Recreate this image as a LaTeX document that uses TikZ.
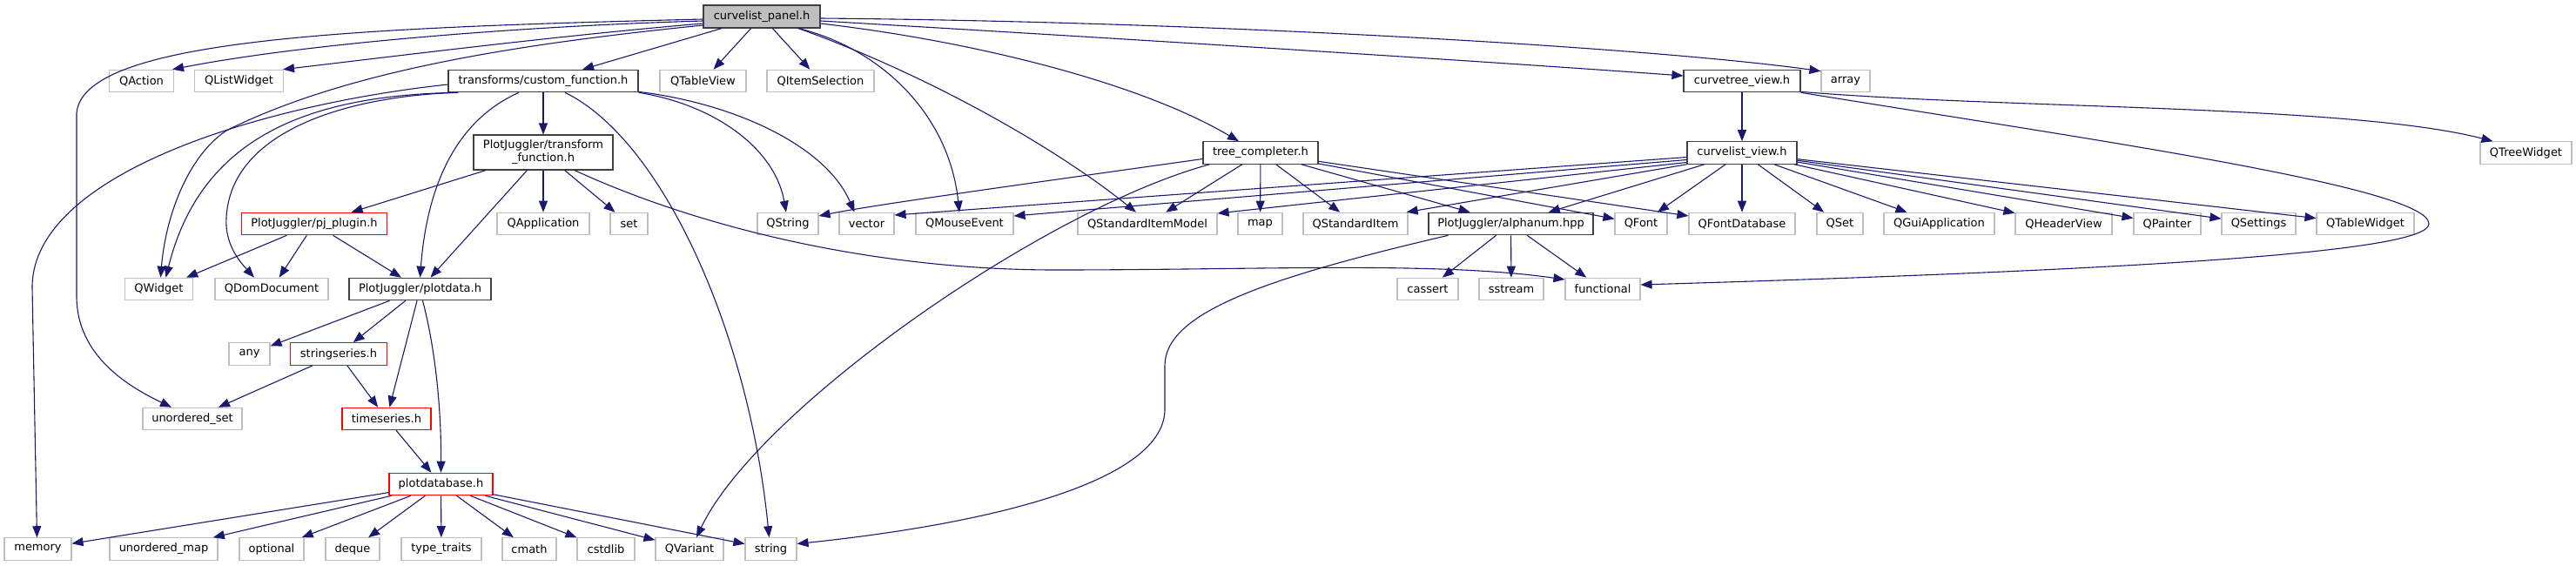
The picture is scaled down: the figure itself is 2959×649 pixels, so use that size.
\documentclass[tikz,border=0pt]{standalone}
\usepackage{fontspec}
\setmainfont{DejaVu Sans}
\usetikzlibrary{arrows.meta,calc}
\definecolor{edgeblue}{HTML}{191970}
\definecolor{extgray}{HTML}{BFBFBF}
\definecolor{docgray}{HTML}{404040}
\definecolor{maingray}{HTML}{BFBFBF}
\begin{document}
\begin{tikzpicture}[x=1pt,y=-1pt,
  every node/.style={font=\fontsize{13}{15}\selectfont, inner sep=0pt, minimum height=25.5pt, anchor=center, text=black},
  ext/.style={draw=extgray, fill=white, line width=1.1pt},
  doc/.style={draw=docgray, fill=white, line width=1.1pt},
  trunc/.style={draw=red, fill=white, line width=1.1pt},
  mainbox/.style={draw=docgray, fill=maingray, line width=1.1pt},
  dep/.style={draw=edgeblue, line width=1.1pt, -{Triangle[length=13pt,width=10pt]}}]
\path[use as bounding box] (0,0) rectangle (2959,649);
% row 0
\node[mainbox, minimum width=134pt, minimum height=26pt] (P) at (875,19) {curvelist\_panel.h};
% row 1
\node[ext, minimum width=74pt] (qaction) at (162.5,93) {QAction};
\node[ext, minimum width=102pt] (qlist) at (274.5,93) {QListWidget};
\node[doc, minimum width=218pt] (cf) at (624,93) {transforms/custom\_function.h};
\node[ext, minimum width=99pt] (qtableview) at (807.5,93) {QTableView};
\node[ext, minimum width=123pt] (qitemsel) at (942.5,93) {QItemSelection};
\node[doc, minimum width=134pt] (ct) at (2001,93) {curvetree\_view.h};
\node[ext, minimum width=56pt] (array) at (2120,93) {array};
% row 2
\node[doc, minimum width=160pt, minimum height=40pt, align=center] (tf) at (624,175) {PlotJuggler/transform\\\_function.h};
\node[doc, minimum width=132pt] (tc) at (1448,175.5) {tree\_completer.h};
\node[doc, minimum width=126pt] (cv) at (2001,175.5) {curvelist\_view.h};
\node[ext, minimum width=105pt] (qtree) at (2901.5,175.5) {QTreeWidget};
% row 3
\node[trunc, minimum width=167pt] (pj) at (361,257) {PlotJuggler/pj\_plugin.h};
\node[ext, minimum width=106pt] (qapp) at (624,257) {QApplication};
\node[ext, minimum width=43pt] (nset) at (722.5,257) {set};
\node[ext, minimum width=70pt] (qstring) at (905,257) {QString};
\node[ext, minimum width=63pt] (nvector) at (995.5,257) {vector};
\node[ext, minimum width=112pt] (qmouse) at (1108,257) {QMouseEvent};
\node[ext, minimum width=160pt] (qsim) at (1318,257) {QStandardItemModel};
\node[ext, minimum width=51pt] (nmap) at (1447.5,257) {map};
\node[ext, minimum width=120pt] (qsi) at (1557,257) {QStandardItem};
\node[doc, minimum width=189pt] (an) at (1735.5,257) {PlotJuggler/alphanum.hpp};
\node[ext, minimum width=60pt] (qfont) at (1885,257) {QFont};
\node[ext, minimum width=122pt] (qfdb) at (2001,257) {QFontDatabase};
\node[ext, minimum width=53pt] (qset) at (2113.5,257) {QSet};
\node[ext, minimum width=127pt] (qgui) at (2227.5,257) {QGuiApplication};
\node[ext, minimum width=111pt] (qheader) at (2370.5,257) {QHeaderView};
\node[ext, minimum width=77pt] (qpainter) at (2489.5,257) {QPainter};
\node[ext, minimum width=85pt] (qsettings) at (2594.5,257) {QSettings};
\node[ext, minimum width=112pt] (qtablew) at (2717,257) {QTableWidget};
% row 4
\node[ext, minimum width=78pt] (qwidget) at (182.5,332) {QWidget};
\node[ext, minimum width=130pt] (qdom) at (312,332) {QDomDocument};
\node[doc, minimum width=163pt] (pd) at (482.5,332) {PlotJuggler/plotdata.h};
\node[ext, minimum width=70pt] (cassert) at (1640,332) {cassert};
\node[ext, minimum width=74pt] (sstream) at (1736,332) {sstream};
\node[ext, minimum width=86pt] (functional) at (1841,332) {functional};
% row 5
\node[ext, minimum width=47pt] (nany) at (286.5,406.5) {any};
\node[trunc, minimum width=111pt] (ss) at (389,406.5) {stringseries.h};
% row 6
\node[ext, minimum width=114pt] (us) at (221,481) {unordered\_set};
\node[trunc, minimum width=102pt] (ts) at (444,481) {timeseries.h};
% row 7
\node[trunc, minimum width=119pt] (pdb) at (506.5,556) {plotdatabase.h};
% row 8
\node[ext, minimum width=77pt] (memory) at (43.5,630.5) {memory};
\node[ext, minimum width=124pt] (umap) at (188,630.5) {unordered\_map};
\node[ext, minimum width=74pt] (optional) at (312,630.5) {optional};
\node[ext, minimum width=62pt] (deque) at (405,630.5) {deque};
\node[ext, minimum width=92pt] (typetraits) at (507,630.5) {type\_traits};
\node[ext, minimum width=62pt] (cmath) at (608,630.5) {cmath};
\node[ext, minimum width=66pt] (cstdlib) at (696,630.5) {cstdlib};
\node[ext, minimum width=78pt] (qvariant) at (792,630.5) {QVariant};
\node[ext, minimum width=59pt] (nstring) at (885.5,630.5) {string};

% ---- edges from curvelist_panel.h
\draw[dep] ($(P.west)+(0,3)$) .. controls (400,32) and (95,45) .. (88,130) -- (88,340) .. controls (88,410) and (150,445) .. ($(us.north)+(-24,0)$);
\draw[dep] ($(P.west)+(0,5)$) .. controls (600,30) and (350,50) .. ($(qaction.north east)+(-2,0)$);
\draw[dep] ($(P.west)+(0,8)$) .. controls (650,40) and (450,65) .. ($(qlist.north east)+(-1,0)$);
\draw[dep] ($(P.west)+(0,10)$) .. controls (600,50) and (400,80) .. (260,150) .. controls (215,180) and (190,250) .. ($(qwidget.north)+(2,0)$);
\draw[dep] (P) -- (cf);
\draw[dep] (P) -- (qtableview);
\draw[dep] (P) -- (qitemsel);
\draw[dep] ($(P.south)+(42,0)$) .. controls (1010,55) and (1090,130) .. ($(qmouse.north)+(-6,0)$);
\draw[dep] ($(P.south)+(42,0)$) .. controls (1050,80) and (1200,160) .. ($(qsim.north)+(-13,0)$);
\draw[dep] ($(P.east)+(0,8)$) .. controls (1100,45) and (1300,90) .. ($(tc.north)+(-25,0)$);
\draw[dep] ($(P.east)+(0,5)$) .. controls (1300,45) and (1700,70) .. ($(ct.west)+(0,-6)$);
\draw[dep] ($(P.east)+(0,2)$) .. controls (1400,25) and (1900,55) .. ($(array.north west)+(0,2)$);

% ---- edges from transforms/custom_function.h
\draw[dep] ($(cf.west)+(0,4)$) .. controls (300,120) and (37,200) .. (37,330) -- ($(memory.north)+(-1,0)$);
\draw[dep] ($(cf.south west)+(8,0)$) .. controls (350,110) and (230,160) .. ($(qwidget.north)+(8,0)$);
\draw[dep] ($(cf.south west)+(12,0)$) .. controls (400,110) and (265,150) .. (260,250) .. controls (258,280) and (275,300) .. ($(qdom.north)+(-20,0)$);
\draw[dep] (cf) -- (tf);
\draw[dep] ($(cf.south)+(-28,0)$) .. controls (520,140) and (490,220) .. (pd.north);
\draw[dep] ($(cf.south)+(25,0)$) .. controls (760,160) and (860,380) .. ($(nstring.north)+(-2,0)$);
\draw[dep] (cf.south east) .. controls (820,120) and (890,170) .. ($(qstring.north)+(-2,0)$);
\draw[dep] ($(cf.south east)+(0,-1)$) .. controls (850,120) and (950,170) .. ($(nvector.north)+(-14,0)$);

% ---- edges from PlotJuggler/transform_function.h
\draw[dep] (tf) -- (pj);
\draw[dep] (tf) -- (pd);
\draw[dep] (tf) -- (qapp);
\draw[dep] (tf) -- (nset);
\draw[dep] ($(tf.south)+(36,0)$) .. controls (800,260) and (1000,310) .. (1213,310) .. controls (1450,310) and (1650,300) .. ($(functional.west)+(0,-11)$);

% ---- edges from PlotJuggler/pj_plugin.h
\draw[dep] (pj) -- (qwidget);
\draw[dep] (pj) -- (qdom);
\draw[dep] (pj) -- (pd);

% ---- edges from PlotJuggler/plotdata.h
\draw[dep] (pd) -- (nany);
\draw[dep] (pd) -- (ss);
\draw[dep] (pd) -- (ts);
\draw[dep] ($(pd.south)+(3,0)$) .. controls (500,400) and (507,470) .. (pdb.north);

% ---- stringseries / timeseries
\draw[dep] (ss) -- (us);
\draw[dep] (ss) -- (ts);
\draw[dep] (ts) -- (pdb);

% ---- edges from plotdatabase.h
\draw[dep] (pdb) -- (memory);
\draw[dep] (pdb) -- (umap);
\draw[dep] (pdb) -- (optional);
\draw[dep] (pdb) -- (deque);
\draw[dep] (pdb) -- (typetraits);
\draw[dep] (pdb) -- (cmath);
\draw[dep] (pdb) -- (cstdlib);
\draw[dep] (pdb) -- (qvariant);
\draw[dep] (pdb) -- (nstring);

% ---- edges from tree_completer.h
\draw[dep] ($(tc.west)+(0,7)$) .. controls (1150,215) and (1000,236) .. ($(qstring.east)+(0,-9)$);
\draw[dep] ($(tc.south west)+(8,0)$) .. controls (1200,240) and (870,470) .. ($(qvariant.north)+(8,0)$);
\draw[dep] (tc) -- (qsim);
\draw[dep] (tc) -- (nmap);
\draw[dep] (tc) -- (qsi);
\draw[dep] (tc) -- (an);
\draw[dep] (tc) -- (qfont);
\draw[dep] (tc) -- (qfdb);

% ---- edges from curvelist_view.h
\draw[dep] ($(cv.west)+(0,5)$) -- ($(nvector.east)+(0,-10)$);
\draw[dep] ($(cv.west)+(0,8)$) -- ($(qmouse.east)+(0,-9)$);
\draw[dep] ($(cv.west)+(0,11)$) -- ($(qsim.east)+(0,-12)$);
\draw[dep] (cv.south west) -- ($(qsi.north east)+(-2,0)$);
\draw[dep] (cv) -- (an);
\draw[dep] (cv) -- (qfont);
\draw[dep] (cv) -- (qfdb);
\draw[dep] (cv) -- (qset);
\draw[dep] (cv) -- (qgui);
\draw[dep] (cv) -- (qheader);
\draw[dep] (cv) -- (qpainter);
\draw[dep] (cv) -- (qsettings);
\draw[dep] (cv) -- (qtablew);

% ---- edges from curvetree_view.h
\draw[dep] (ct) -- (cv);
\draw[dep] ($(ct.south east)+(0,-1)$) .. controls (2300,125) and (2700,120) .. ($(qtree.north)+(-38,0)$);
\draw[dep] (ct.south east) .. controls (2400,160) and (2790,215) .. (2790,257) .. controls (2790,290) and (2450,310) .. ($(functional.east)+(0,-5)$);

% ---- edges from PlotJuggler/alphanum.hpp
\draw[dep] (an) -- (cassert);
\draw[dep] (an) -- (sstream);
\draw[dep] (an) -- (functional);
\draw[dep] ($(an.south)+(-72,0)$) .. controls (1450,320) and (1338,360) .. (1338,420) -- (1338,470) .. controls (1338,550) and (1150,600) .. ($(nstring.east)+(0,-6)$);
\end{tikzpicture}
\end{document}
